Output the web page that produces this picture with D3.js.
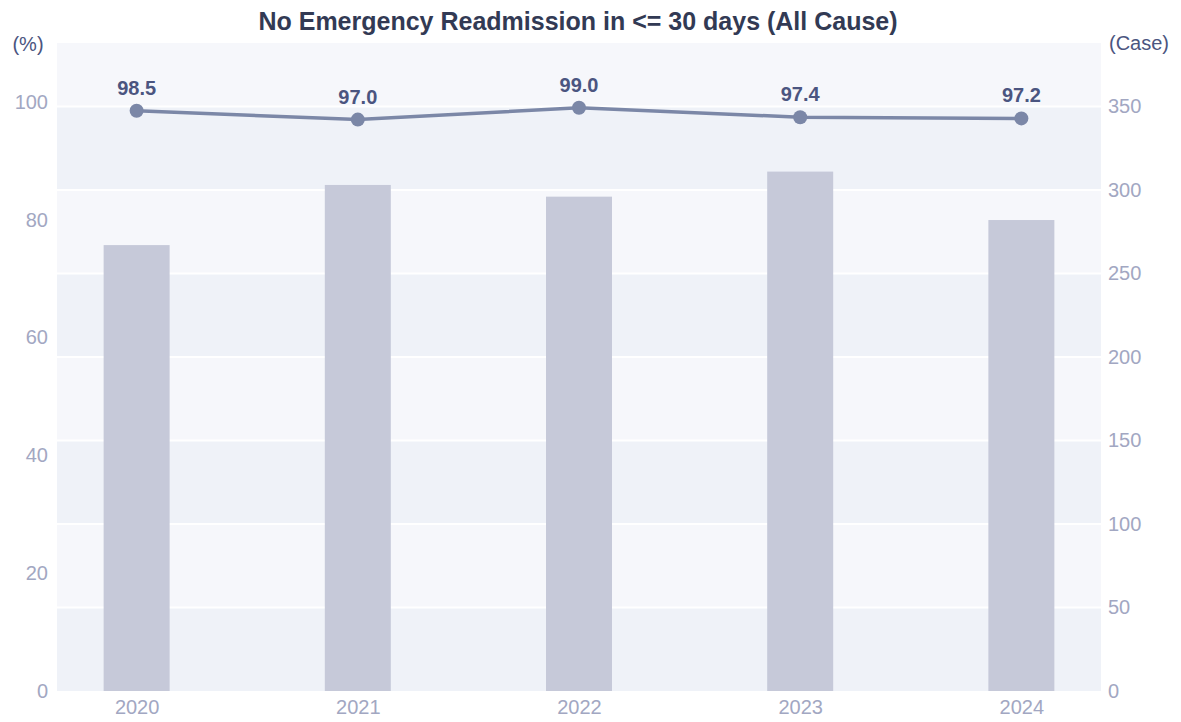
<!DOCTYPE html>
<html>
<head>
<meta charset="utf-8">
<script src="https://cdn.jsdelivr.net/npm/d3@7"></script>
<style>
  body { margin: 0; background: #fff; }
  text { font-family: "Liberation Sans", Arial, sans-serif; }
</style>
</head>
<body>
<svg id="chart" width="1181" height="722"></svg>
<script>
const years = ["2020", "2021", "2022", "2023", "2024"];
const caseCounts = [267, 303, 296, 311, 282];
const rates = [98.5, 97.0, 99.0, 97.4, 97.2];
const leftTicks = [0, 20, 40, 60, 80, 100];
const rightTicks = [0, 50, 100, 150, 200, 250, 300, 350];

const svg = d3.select("#chart");
const plotL = 57, plotR = 1101, plotT = 43, plotB = 691;

const x = d3.scalePoint().domain(years).range([plotL, plotR]).padding(0.36);
const yPct = d3.scaleLinear().domain([0, 110]).range([plotB, plotT]);
const yCase = d3.scaleLinear().domain([0, 388]).range([plotB, plotT]);

// background bands between right-axis ticks
const edges = rightTicks.concat([388]);
for (let i = 0; i < edges.length - 1; i++) {
  svg.append("rect")
    .attr("x", plotL)
    .attr("width", plotR - plotL)
    .attr("y", yCase(edges[i + 1]))
    .attr("height", yCase(edges[i]) - yCase(edges[i + 1]))
    .attr("fill", i % 2 == 0 ? "#eff2f8" : "#f6f7fb");
}
// white gridlines
svg.selectAll(".grid")
  .data(rightTicks.slice(1))
  .enter().append("line")
  .attr("x1", plotL).attr("x2", plotR)
  .attr("y1", d => yCase(d)).attr("y2", d => yCase(d))
  .attr("stroke", "#fff").attr("stroke-width", 2);

// bars
const barW = 66;
svg.selectAll(".bar")
  .data(years)
  .enter().append("rect")
  .attr("x", d => x(d) - barW / 2)
  .attr("width", barW)
  .attr("y", (d, i) => yCase(caseCounts[i]))
  .attr("height", (d, i) => yCase(0) - yCase(caseCounts[i]))
  .attr("fill", "#c6c9d9");

// line
const line = d3.line().x((d, i) => x(years[i])).y(d => yPct(d));
svg.append("path")
  .datum(rates)
  .attr("d", line)
  .attr("fill", "none")
  .attr("stroke", "#7b87a7")
  .attr("stroke-width", 3.5);
svg.selectAll(".dot")
  .data(rates)
  .enter().append("circle")
  .attr("cx", (d, i) => x(years[i]))
  .attr("cy", d => yPct(d))
  .attr("r", 7)
  .attr("fill", "#7b87a7");
svg.selectAll(".lbl")
  .data(rates)
  .enter().append("text")
  .attr("x", (d, i) => x(years[i]))
  .attr("y", d => yPct(d) - 16)
  .attr("text-anchor", "middle")
  .attr("font-size", 20)
  .attr("font-weight", "bold")
  .attr("fill", "#4b5580")
  .text(d => d.toFixed(1));

// axes
const tickColor = "#a2a7c2";
const axL = svg.append("g").attr("transform", `translate(${plotL - 9},0)`)
  .call(d3.axisLeft(yPct).tickValues(leftTicks).tickSize(0).tickPadding(0));
const axR = svg.append("g").attr("transform", `translate(${plotR + 7},0)`)
  .call(d3.axisRight(yCase).tickValues(rightTicks).tickSize(0).tickPadding(0));
const axB = svg.append("g").attr("transform", `translate(0,${plotB + 6})`)
  .call(d3.axisBottom(x).tickSize(0).tickPadding(0));
[axL, axR, axB].forEach(g => {
  g.select(".domain").remove();
  g.selectAll("text").attr("font-size", 20).attr("fill", tickColor)
    .attr("font-family", "Liberation Sans, Arial, sans-serif");
});
axB.selectAll("text").attr("dy", "0.85em");

// axis names
svg.append("text").attr("x", 28).attr("y", 51).attr("text-anchor", "middle")
  .attr("font-size", 20).attr("fill", "#4b5580").text("(%)");
svg.append("text").attr("x", 1139).attr("y", 50).attr("text-anchor", "middle")
  .attr("font-size", 20).attr("fill", "#4b5580").text("(Case)");

// title
svg.append("text").attr("x", 578).attr("y", 30).attr("text-anchor", "middle")
  .attr("font-size", 25).attr("font-weight", "bold").attr("fill", "#323a54")
  .text("No Emergency Readmission in <= 30 days (All Cause)");
</script>
</body>
</html>
